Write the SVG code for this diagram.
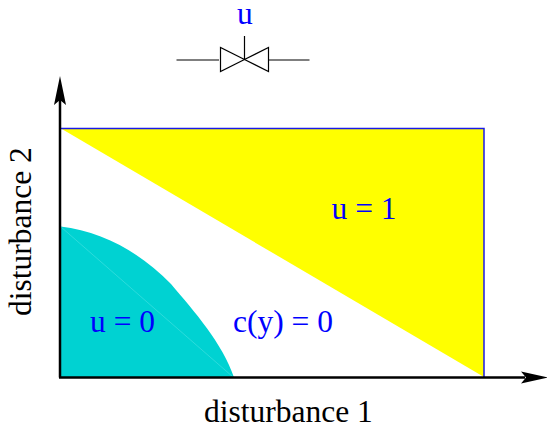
<svg xmlns="http://www.w3.org/2000/svg" width="547" height="424" viewBox="0 0 547 424">
<style>
.t{font-family:"Liberation Serif","Times New Roman",serif;font-size:31.500px}
.b{fill:#0000ff}
.k{fill:#000}
.v{fill:none;stroke:#000;stroke-width:1.2}
</style>
<rect width="547" height="424" fill="#fff"/>
<g id="region-u1">
<path d="M61 128.500H484V377Z" fill="#ffff00"/>
<path d="M61 128.500H484V377" fill="none" stroke="#1a1ae6" stroke-width="1.500"/>
<text class="t b" x="331.500" y="219">u = 1</text>
</g>
<g id="region-u0">
<path d="M60.500 226.500C102 231 141 253 171 284C194 311 223 344 234 377.500H60.500Z" fill="#00d2d2"/>
<line x1="61" y1="227" x2="233" y2="377" stroke="#3fe0e0" stroke-width="0.700"/>
<text class="t b" x="90" y="332">u = 0</text>
</g>
<g id="curve-label">
<text class="t b" x="233" y="332">c(y) = 0</text>
</g>
<g id="valve">
<path class="v" d="M176.500 60H219M220.500 47.500V71.500L244.500 59.500L268.500 47.500V71.500L244.500 59.500ZM244.500 59.500V36M268 60H309.500"/>
<text class="t b" x="237" y="24">u</text>
</g>
<g id="connectors">
<path d="M60 377.500V100" stroke="#000" stroke-width="2.500" fill="none"/>
<path d="M59 377.500H525" stroke="#000" stroke-width="2.500" fill="none"/>
<path d="M60 76L66 105L60 100L54 105Z" class="k"/>
<path d="M548 377.500L521 371.500L526 377.500L521 383.500Z" class="k"/>
</g>
<g id="axis-labels">
<text class="t k" x="204" y="422">disturbance 1</text>
<text class="t k" transform="translate(31 316) rotate(-90)">disturbance 2</text>
</g>
</svg>
